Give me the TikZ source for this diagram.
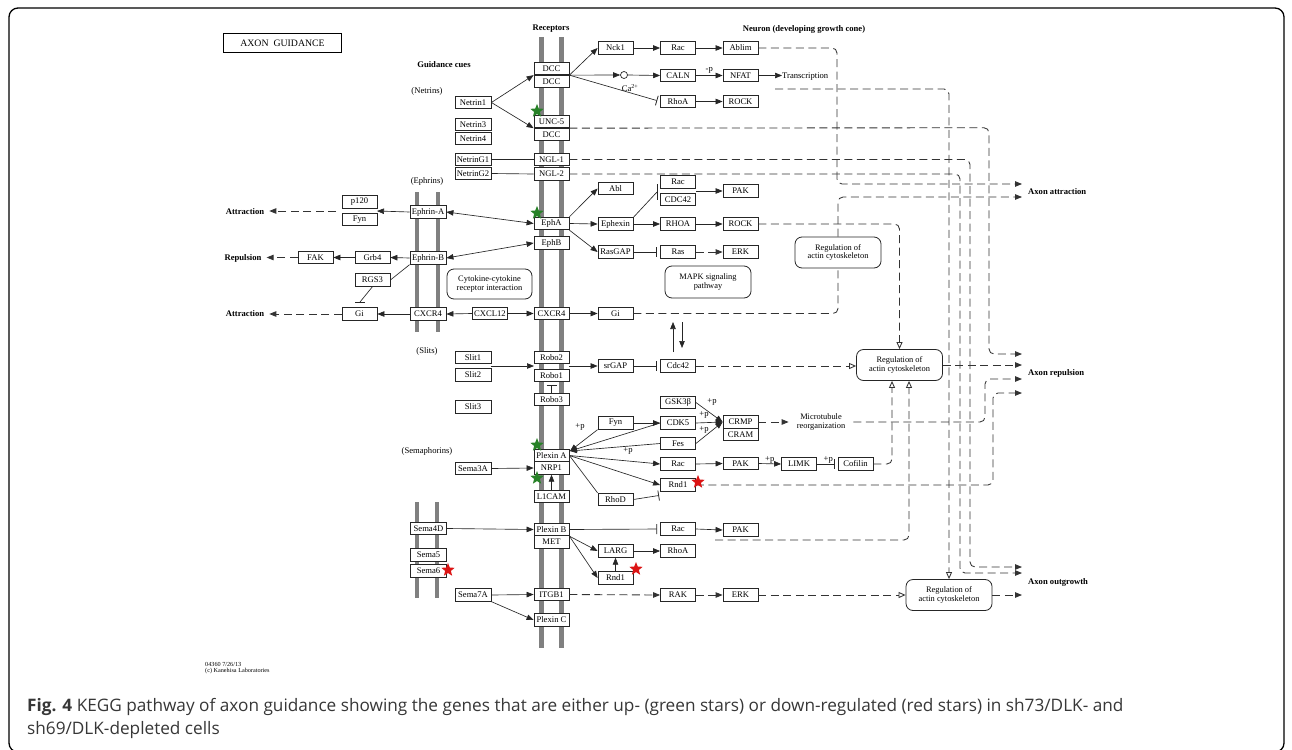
\documentclass[tikz,border=0pt]{standalone}
\usepackage{fontspec}
\setmainfont{Liberation Serif}
\newfontfamily\capfont{Open Sans}
\usetikzlibrary{arrows.meta,shapes.geometric,calc}
\definecolor{stargreen}{RGB}{40,130,40}
\definecolor{starred}{RGB}{220,20,20}
\definecolor{bargray}{RGB}{128,128,128}
\definecolor{captxt}{RGB}{55,55,55}
\newcommand\gf{\fontsize{8.6}{9}\selectfont}
\tikzset{
  gene/.style={draw=black!85, fill=white, line width=0.8pt, minimum width=35pt, minimum height=12.5pt, inner sep=0pt, font=\gf},
  gw/.style={gene, minimum width=36pt},
  regbox/.style={draw=black!85, fill=white, line width=0.8pt, rounded corners=7pt, minimum width=86pt, minimum height=31pt, inner sep=1pt, align=center, font=\fontsize{8.4}{8.8}\selectfont},
  txt/.style={inner sep=0pt, font=\gf},
  btxt/.style={inner sep=0pt, font=\gf\bfseries},
  ln/.style={line width=0.65pt, draw=black!85},
  dln/.style={line width=0.85pt, draw=black!80},
  act/.style={ln, -{Triangle[length=7pt,width=5.5pt]}},
  dact/.style={dln, -{Triangle[length=7pt,width=5.5pt]}, dash pattern=on 8pt off 4.5pt, rounded corners=5pt},
  dopen/.style={dln, dash pattern=on 8pt off 4.5pt, rounded corners=5pt, -{Triangle[open,length=7pt,width=6pt]}},
  dline/.style={dln, dash pattern=on 8pt off 4.5pt, rounded corners=5pt},
  inh/.style={ln, -{Bar[width=10pt,line width=0.8pt]}, shorten >=3pt},
  biact/.style={ln, {Triangle[length=7pt,width=5.5pt]}-{Triangle[length=7pt,width=5.5pt]}},
  memb/.style={line width=4.5pt, draw=bargray},
  gstar/.style={star, star points=5, star point ratio=2.3, fill=stargreen, draw=none, minimum size=14pt, inner sep=0pt},
  rstar/.style={gstar, fill=starred},
}
\begin{document}
\begin{tikzpicture}[x=1pt,y=-1pt]
\useasboundingbox (0,0) rectangle (1292,749);
\fill[white] (0,0) rectangle (1292,749);
\draw[line width=1.3pt, rounded corners=9pt] (9,8) rectangle (1284,752);

% membranes
\draw[memb] (541.5,37) -- (541.5,648);
\draw[memb] (561.5,37) -- (561.5,648);
\draw[memb] (417,192) -- (417,332);
\draw[memb] (438,192) -- (438,332);
\draw[memb] (417,502) -- (417,598);
\draw[memb] (437,502) -- (437,598);

% headers
\node[draw, line width=1.8pt, minimum width=118pt, minimum height=19pt, inner sep=0pt, font=\fontsize{9.8}{10}\selectfont] (title) at (282.5,43) {AXON\enspace GUIDANCE};
\node[btxt] (hrec) at (551,29) {Receptors};
\node[btxt] (hneu) at (804,29) {Neuron (developing growth cone)};
\node[btxt] (hgc) at (444,65) {Guidance cues};
\node[txt] (hnet) at (427,91) {(Netrins)};
\node[txt] (heph) at (427,181) {(Ephrins)};
\node[txt] (hsli) at (427,351) {(Slits)};
\node[txt] (hsem) at (427,451) {(Semaphorins)};

% receptors
\node[gene] (dcc1) at (551.5,68.5) {DCC};
\node[gene] (dcc2) at (551.5,81.5) {DCC};
\node[gene] (unc5) at (551.5,121.5) {UNC-5};
\node[gene] (dcc3) at (551.5,134.5) {DCC};
\node[gene] (ngl1) at (551.5,159.5) {NGL-1};
\node[gene] (ngl2) at (551.5,174) {NGL-2};
\node[gene] (epha) at (551.5,223.5) {EphA};
\node[gene] (ephb) at (551.5,243) {EphB};
\node[gene] (cxcr4r) at (551.5,313.5) {CXCR4};
\node[gene] (robo2) at (551.5,357.5) {Robo2};
\node[gene] (robo1) at (551.5,375.5) {Robo1};
\node[gene] (robo3) at (551.5,399.5) {Robo3};
\node[gene] (plexa) at (551.5,455.5) {Plexin A};
\node[gene] (nrp1) at (551.5,468) {NRP1};
\node[gene] (l1cam) at (551.5,496.5) {L1CAM};
\node[gene] (plexb) at (551.5,529.5) {Plexin B};
\node[gene] (met) at (551.5,542) {MET};
\node[gene] (itgb1) at (551.5,594.5) {ITGB1};
\node[gene] (plexc) at (551.5,620) {Plexin C};

% ligands
\node[gw] (netrin1) at (473,102.5) {Netrin1};
\node[gw] (netrin3) at (473,124.5) {Netrin3};
\node[gw] (netrin4) at (473,138.5) {Netrin4};
\node[gw] (netring1) at (473,159.5) {NetrinG1};
\node[gw] (netring2) at (473,173.5) {NetrinG2};
\node[gw] (slit1) at (473,357.5) {Slit1};
\node[gw] (slit2) at (473,375) {Slit2};
\node[gw] (slit3) at (473,407) {Slit3};
\node[gw] (sema3a) at (473,468.5) {Sema3A};
\node[gw] (sema7a) at (473,595) {Sema7A};
\node[gene] (cxcl12) at (490,313.5) {CXCL12};

% ephrin column
\node[gw] (ephrina) at (428,212) {Ephrin-A};
\node[gw] (ephrinb) at (428,258) {Ephrin-B};
\node[gw] (cxcr4l) at (428,314) {CXCR4};
\node[gw] (sema4d) at (428.5,528.5) {Sema4D};
\node[gw] (sema5) at (428.5,555) {Sema5};
\node[gw] (sema6) at (428.5,571) {Sema6};

% left side
\node[gene] (p120) at (359.5,202) {p120};
\node[gene] (fyn1) at (359.5,219.5) {Fyn};
\node[gene] (grb4) at (372.5,257.5) {Grb4};
\node[gene] (fak) at (315.5,257.5) {FAK};
\node[gene] (rgs3) at (372.5,280) {RGS3};
\node[gene] (gil) at (359.5,314) {Gi};
\node[btxt] (attrA) at (245,212) {Attraction};
\node[btxt] (repB) at (243,258) {Repulsion};
\node[btxt] (attrC) at (245,314) {Attraction};
\node[regbox, minimum width=85pt, minimum height=30pt] (cyto) at (489.5,284) {Cytokine-cytokine\\receptor interaction};

% right side genes
\node[gene] (nck1) at (615.5,48) {Nck1};
\node[gene] (rac1) at (678,48) {Rac};
\node[gene] (ablim) at (740.5,48) {Ablim};
\node[circle, draw=black!85, line width=0.7pt, minimum size=7pt, inner sep=0pt, fill=white] (ca) at (624,75) {};
\node[txt] (calbl) at (630,88) {Ca\textsuperscript{2+}};
\node[gene] (caln) at (678,75.5) {CALN};
\node[gene] (nfat) at (740.5,75.5) {NFAT};
\node[txt, anchor=west] (transc) at (782,77) {Transcription};
\node[gene] (rhoa1) at (678,101.5) {RhoA};
\node[gene] (rock1) at (740.5,101.5) {ROCK};

\node[gene] (abl) at (615.5,188.5) {Abl};
\node[gene] (rac2) at (678,182) {Rac};
\node[gene] (cdc42a) at (678,199.5) {CDC42};
\node[gene] (pak1) at (740.5,191) {PAK};
\node[gene] (ephexin) at (615.5,224) {Ephexin};
\node[gene] (rhoa2) at (678,224) {RHOA};
\node[gene] (rock2) at (740.5,224) {ROCK};
\node[gene] (rasgap) at (615.5,252) {RasGAP};
\node[gene] (ras) at (678,252) {Ras};
\node[gene] (erk1) at (740.5,252) {ERK};
\node[regbox, minimum height=32pt] (mapk) at (708,282) {MAPK signaling\\pathway};
\node[gene] (gir) at (615.5,313.5) {Gi};
\node[gene] (srgap) at (615.5,366) {srGAP};
\node[gene] (cdc42b) at (678,366) {Cdc42};

\node[gene] (fyn2) at (615.5,423) {Fyn};
\node[gene] (gsk) at (678,402.5) {GSK3β};
\node[gene] (cdk5) at (678,423) {CDK5};
\node[gene] (fes) at (678,443.5) {Fes};
\node[gene] (rac3) at (678,464) {Rac};
\node[gene] (rnd1a) at (678,485) {Rnd1};
\node[gene] (rhod) at (615.5,499.5) {RhoD};
\node[gene] (crmp) at (740.5,422) {CRMP};
\node[gene] (cram) at (740.5,434.5) {CRAM};
\node[txt, align=center, inner xsep=8pt, font=\fontsize{8.4}{8.6}\selectfont] (mt) at (821,422) {Microtubule\\reorganization};
\node[gene] (pak3) at (740.5,463.5) {PAK};
\node[gene] (limk) at (799,464) {LIMK};
\node[gene] (cofilin) at (855.5,464) {Cofilin};

\node[gene] (rac4) at (678,529) {Rac};
\node[gene] (pak4) at (740.5,530) {PAK};
\node[gene] (larg) at (615.5,551) {LARG};
\node[gene] (rhoa3) at (678,551) {RhoA};
\node[gene] (rnd1b) at (615.5,578) {Rnd1};
\node[gene] (rak) at (678,595) {RAK};
\node[gene] (erk2) at (740.5,595) {ERK};

% regulation boxes
\node[regbox] (reg1) at (838,252.5) {Regulation of\\actin cytoskeleton};
\node[regbox] (reg2) at (899.5,365) {Regulation of\\actin cytoskeleton};
\node[regbox] (reg3) at (949,595) {Regulation of\\actin cytoskeleton};

% outputs
\node[btxt, anchor=west] (lattr) at (1028,192) {Axon attraction};
\node[btxt, anchor=west] (lrep) at (1028,373) {Axon repulsion};
\node[btxt, anchor=west] (lout) at (1028,582) {Axon outgrowth};
\coordinate (aa1) at (1022,184);
\coordinate (aa2) at (1022,197);
\coordinate (ar1) at (1022,354);
\coordinate (ar2) at (1022,365);
\coordinate (ar3) at (1022,379);
\coordinate (ar4) at (1022,393);
\coordinate (ao1) at (1022,567);
\coordinate (ao2) at (1022,573);
\coordinate (ao3) at (1022,595);

% helper coordinates
\coordinate (pf) at (377,211);
\coordinate (pfw) at (336,211);
\coordinate (tx) at (775,89);
\coordinate (rc) at (660,191);
\coordinate (rcE) at (696,191);
\coordinate (sl) at (491,366);
\coordinate (slE) at (534,366);
\coordinate (roE) at (569,366);
\coordinate (pa) at (570,451);
\coordinate (rdb) at (662,495);
\coordinate (rgsbar) at (360,302);
\coordinate (p4) at (715,540);
\coordinate (upA) at (673,352);
\coordinate (upB) at (673,322);
\coordinate (dnA) at (682,322);
\coordinate (dnB) at (682,348);

% ---- long dashed connectors ----
\draw[dact] (ablim.east) -- (837,48) |- (aa1);
\draw[dopen] (tx) -| (reg3.north);
\draw[dact] (unc5.south east) -- (989,127.75) |- (ar1);
\draw[dact] (ngl1.east) -- (970,159.5) |- (ao1);
\draw[dact] (ngl2.east) -- (960,174) |- (ao2);
\draw[dopen] (rock2.east) -| (reg2.north);
\draw[dline] (gir.east) -| (reg1.south);
\draw[dact] (reg1.north) |- (aa2);
\draw[dopen] (cdc42b.east) -- (reg2.west |- cdc42b);
\draw[dact] (reg2.east) -- (ar2);
\draw[dact] (crmp.east) -- (mt.west);
\draw[dact] (mt.east) -- (985,422) |- (ar3);
\draw[dopen] (cofilin.east) -| ($(reg2.south)+(-7.5,0)$);
\draw[dopen] (p4) -| ($(reg2.south)+(9.5,0)$);
\draw[dact] (rnd1a.east) -- (993,485) |- (ar4);
\draw[dact] (itgb1.east) -- (rak.west);
\draw[dact] (rak.east) -- (erk2.west);
\draw[dopen] (erk2.east) -- (reg3.west);
\draw[dact] (reg3.east) -- (ao3);
\draw[dact] (ras.east) -- (erk1.west);
\draw[dact, shorten >=5pt] (pfw) -- (attrA.east |- pfw);
\draw[dact, shorten >=5pt] (fak.west) -- (repB.east |- fak);
\draw[dact, shorten >=5pt] (gil.west) -- (attrC.east |- gil);

% ---- solid connectors ----
\draw[act] (netrin1.east) -- (dcc1.south west);
\draw[act] (netrin1.east) -- (unc5.south west);
\draw[ln] (netring1.east) -- (ngl1.west);
\draw[ln] (netring2.east) -- (ngl2.west);
\draw[act] (dcc1.south east) -- (nck1.west);
\draw[act] (dcc1.south east) -- (ca.west);
\draw[act] (ca.east) -- (caln.west);
\draw[act] (caln.east) -- node[txt, above=1.5pt] {-p} (nfat.west);
\draw[act] (nfat.east) -- (transc.west |- nfat);
\draw[inh] (dcc1.south east) -- (rhoa1.west);
\draw[act] (rhoa1.east) -- (rock1.west);
\draw[act] (nck1.east) -- (rac1.west);
\draw[act] (rac1.east) -- (ablim.west);

\draw[biact] (ephrina.east) -- (epha.west);
\draw[biact] (ephrinb.east) -- (ephb.west);
\draw[act] (ephrina.west) -- (pf);
\draw[act] (ephrinb.west) -- (grb4.east);
\draw[act] (grb4.west) -- (fak.east);
\draw[ln] (ephrinb.south west) -- (rgs3.east);
\draw[ln] (rgs3.south) -- (rgsbar);
\draw[ln, line width=0.8pt] ($(rgsbar)+(-5,0)$) -- ($(rgsbar)+(5,0)$);
\draw[act] (cxcr4l.west) -- (gil.east);
\draw[act] (cxcl12.west) -- (cxcr4l.east);
\draw[act] (cxcl12.east) -- (cxcr4r.west);

\draw[act] (epha.north east) -- (abl.west);
\draw[act] (epha.east) -- (ephexin.west);
\draw[act] (epha.south east) -- (rasgap.west);
\draw[ln] (ephexin.north east) -- ($(rc)+(-3,1)$);
\draw[ln, line width=0.8pt] (657,184) -- (657,200);
\draw[act] (rcE) -- (pak1.west);
\draw[act] (ephexin.east) -- (rhoa2.west);
\draw[act] (rhoa2.east) -- (rock2.west);
\draw[inh] (rasgap.east) -- (ras.west);
\draw[act] (cxcr4r.east) -- (gir.west);
\draw[act] (upA) -- (upB);
\draw[act] (dnA) -- (dnB);

\draw[act] (sl) -- (slE);
\draw[act] (roE) -- (srgap.west);
\draw[inh] (srgap.east) -- (cdc42b.west);
\draw[inh] (robo3.north) -- (robo1.south);

\draw[act] (sema3a.east) -- (nrp1.west);
\draw[act] (l1cam.north) -- (nrp1.south);
\draw[act] (fyn2.south west) -- (pa);
\node[txt] (pp0) at (580,427) {+p};
\draw[act] (fyn2.east) -- (cdk5.west);
\draw[act] (cdk5.west) -- (pa);
\draw[act] (fes.west) -- (pa);
\node[txt] (pp4) at (628,451) {+p};
\draw[act] (plexa.east) -- (rac3.west);
\draw[act] (plexa.east) -- (rnd1a.west);
\draw[ln] (plexa.east) -- (rhod.north west);
\draw[inh] (rhod.east) -- (rdb);
\draw[act] (gsk.east) -- (crmp.west);
\draw[act] (cdk5.east) -- (crmp.west);
\draw[act] (fes.east) -- (crmp.west);
\node[txt] (pp1) at (712,402) {+p};
\node[txt] (pp2) at (704,415) {+p};
\node[txt] (pp3) at (704,430) {+p};
\draw[act] (rac3.east) -- (pak3.west);
\draw[act] (pak3.east) -- node[txt, above=0.5pt] {+p} (limk.west);
\draw[inh] (limk.east) -- node[txt, above=0.5pt, pos=0.55] {+p} (cofilin.west);

\draw[act] (sema4d.east) -- (plexb.west);
\draw[inh] (plexb.east) -- (rac4.west);
\draw[act] (rac4.east) -- (pak4.west);
\draw[act] (plexb.south east) -- (larg.west);
\draw[act] (plexb.south east) -- (rnd1b.west);
\draw[act] (rnd1b.north) -- (larg.south);
\draw[act] (larg.east) -- (rhoa3.west);
\draw[act] (sema7a.east) -- (itgb1.west);
\draw[act] (sema7a.south east) -- (plexc.west);

% stars
\node[gstar] (s1) at (537,111) {};
\node[gstar] (s2) at (537,213) {};
\node[gstar] (s3) at (537,445) {};
\node[gstar] (s4) at (537,478) {};
\node[rstar] (s5) at (698,482) {};
\node[rstar] (s6) at (448,570) {};
\node[rstar] (s7) at (636,569) {};

% footer
\node[txt, anchor=west, font=\fontsize{6.2}{6.5}\selectfont] (f1) at (205,664) {04360 7/26/13};
\node[txt, anchor=west, font=\fontsize{6.2}{6.5}\selectfont] (f2) at (205,671) {(c) Kanehisa Laboratories};

% caption
\node[anchor=west, inner sep=0pt, text=captxt, font=\capfont\fontsize{17.2}{20}\selectfont] (cap1) at (27,707) {\textbf{Fig. 4} KEGG pathway of axon guidance showing the genes that are either up- (green stars) or down-regulated (red stars) in sh73/DLK- and};
\node[anchor=west, inner sep=0pt, text=captxt, font=\capfont\fontsize{17.2}{20}\selectfont] (cap2) at (27,730) {sh69/DLK-depleted cells};
\end{tikzpicture}
\end{document}
